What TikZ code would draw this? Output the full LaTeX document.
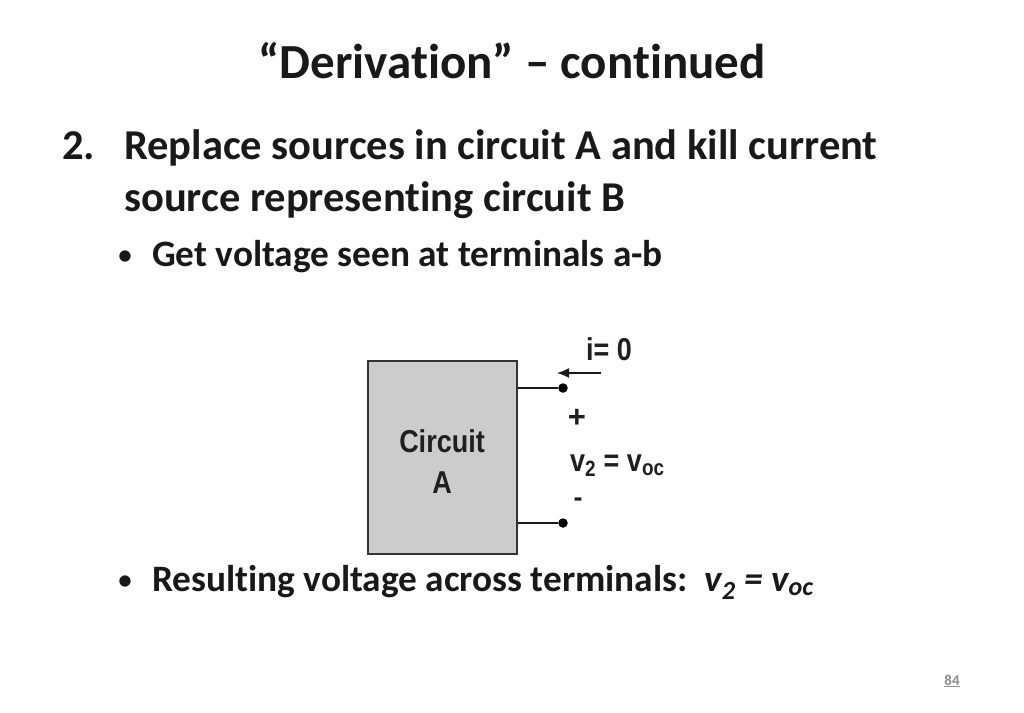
\documentclass[tikz,border=0pt]{standalone}
\usepackage{fontspec}
\setmainfont{Carlito}[Ligatures=NoCommon]
\newfontfamily\dsans{Liberation Sans}
\usetikzlibrary{arrows.meta}
\newcommand{\tallfig}[1]{\scalebox{1}[1.17]{#1}}
\tikzset{
 slide/.style={anchor=base west,inner sep=0pt,font=\bfseries\fontsize{42.5}{42.5}\selectfont,text=black!90},
 bullet/.style={slide,font=\bfseries\fontsize{37.3}{37.3}\selectfont},
 bulletdot/.style={slide,font=\fontsize{32}{32}\selectfont},
 fig/.style={anchor=base,inner sep=0pt,font=\dsans\bfseries\fontsize{27}{27}\selectfont,text=black!88},
 term/.style={circle,fill=black,inner sep=0pt,minimum size=9.5pt},
 wire/.style={line width=1.4pt,draw=black!90}
}
\begin{document}
\begin{tikzpicture}[x=1pt,y=-1pt]
\useasboundingbox (0,0) rectangle (1024,712);
\fill[white] (0,0) rectangle (1024,712);
\node[slide,font=\bfseries\fontsize{49}{49}\selectfont,anchor=base] (title) at (512,78) {“Derivation” – continued};
\node[slide] (num) at (62,159) {2.};
\node[slide] (l1) at (124,159) {Replace sources in circuit A and kill current};
\node[slide] (l2) at (124,211) {source representing circuit B};
\node[bulletdot] (b1d) at (117,265) {•};
\node[bullet] (b1) at (152,266) {Get voltage seen at terminals a-b};
\node[bulletdot] (b2d) at (117,590) {•};
\node[bullet] (b2) at (152,591) {Resulting voltage across terminals:\ \ \textit{v\textsubscript{2} = v\textsubscript{oc}}};
\node[anchor=base,inner sep=0pt,font=\fontsize{15}{15}\selectfont\bfseries,text=black!45] (pg) at (952,685) {\underline{84}};
\node[draw=black!80,line width=2pt,fill=black!20,minimum width=149pt,minimum height=193pt,inner sep=0pt] (box) at (442.5,457.5) {};
\node[fig] (lab) at (442,452) {\tallfig{Circuit}};
\node[fig] (laba) at (442,493) {\tallfig{A}};
\node[term] (t1) at (563,388) {};
\node[term] (t2) at (563,523) {};
\draw[wire,line width=1.7pt] (box.east |- t1) -- (t1);
\draw[wire,line width=1.2pt] (box.east |- t2) -- (t2);
\node[fig] (i) at (609,360) {\tallfig{i= 0}};
\coordinate (as) at (601,373);
\coordinate (ae) at (557,373);
\draw[wire,-{Latex[length=12pt,width=10pt]}] (as) -- (ae);
\node[fig,font=\dsans\bfseries\fontsize{31}{31}\selectfont] (plus) at (577,427) {+};
\node[fig,anchor=base west] (v) at (570,471) {\tallfig{v\textsubscript{2} = v\textsubscript{oc}}};
\node[fig] (minus) at (578,506) {-};
\end{tikzpicture}
\end{document}
